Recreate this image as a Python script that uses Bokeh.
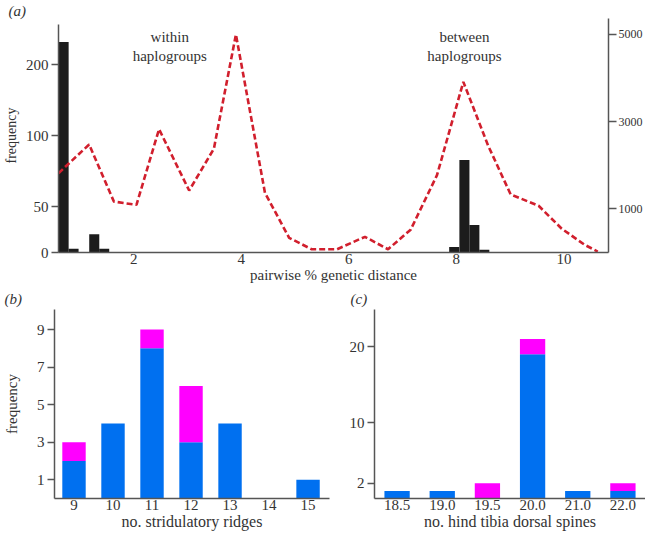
import math
from bokeh.plotting import figure
from bokeh.models import Range1d, FactorRange, LinearAxis, FixedTicker
from bokeh.layouts import column, row
from bokeh.embed import file_html
from bokeh.resources import INLINE
from bokeh.core.properties import value

# ---------------- data ----------------
# panel (a): histogram of pairwise distances (left axis, frequency)
dist_centers = [0.695, 0.88, 1.265, 1.45, 7.96, 8.15, 8.335, 8.52]
dist_freq = [250, 4, 20, 4, 6, 79, 30, 3]
bin_width = 0.187
# panel (a): dashed line (right axis)
line_x = [0.6, 1.17, 1.63, 2.05, 2.47, 3.03, 3.49, 3.90, 4.44, 4.89, 5.31, 5.78,
          6.30, 6.73, 7.15, 7.64, 8.13, 8.59, 9.01, 9.53, 9.96, 10.39, 10.63]
line_y = [1816, 2473, 1166, 1092, 2825, 1419, 2377, 4993, 1368, 336, 74, 74,
          359, 74, 522, 1771, 3908, 2451, 1330, 1070, 545, 173, 22]
left_ticks = [0, 50, 100, 200]
right_ticks = [1000, 3000, 5000]
a_xticks = [2, 4, 6, 8, 10]

# panel (b)
ridges = [9, 10, 11, 12, 13, 14, 15]
ridges_blue = [2, 4, 8, 3, 4, 0, 1]
ridges_magenta = [1, 0, 1, 3, 0, 0, 0]
b_yticks = [1, 3, 5, 7, 9]

# panel (c)
spines = ["18.5", "19.0", "19.5", "20.0", "21.0", "22.0"]
spines_blue = [1, 1, 0, 19, 1, 1]
spines_magenta = [0, 0, 2, 2, 0, 1]
c_yticks = [2, 10, 20]

FONT = "Liberation Serif"
TXT = "#333333"
AXC = "#555555"
BLUE = "#0070f0"
MAG = "#ff00ff"


def freq_scale(v):
    # left axis of (a): linear up to 50, then equal spacing per doubling
    low, octave = 1047.0, 1626.0
    if v <= 50:
        return low * v / 50.0
    return low + octave * math.log2(v / 50.0)


def style_axis(ax, size="15px", tick_out=7, label_size="15px"):
    ax.axis_line_color = AXC
    ax.axis_line_width = 1.5
    ax.major_tick_line_color = AXC
    ax.major_tick_line_width = 1.5
    ax.major_tick_in = 0
    ax.major_tick_out = tick_out
    ax.minor_tick_line_color = None
    ax.major_label_text_font = FONT
    ax.major_label_text_font_size = size
    ax.major_label_text_color = TXT
    ax.major_label_text_line_height = 1.0
    ax.major_label_standoff = 3
    ax.axis_label_text_font = FONT
    ax.axis_label_text_font_size = label_size
    ax.axis_label_text_font_style = "normal"
    ax.axis_label_text_color = TXT
    ax.axis_label_text_line_height = 1.0


def clean(p, label, offset, standoff):
    p.xgrid.visible = False
    p.ygrid.visible = False
    p.outline_line_color = None
    p.background_fill_color = "white"
    p.border_fill_color = "white"
    p.title.text = label
    p.title.align = "left"
    p.title.offset = offset
    p.title.standoff = standoff
    p.title.text_font = FONT
    p.title.text_font_size = "15px"
    p.title.text_font_style = "italic"
    p.title.text_color = TXT
    p.title.text_line_height = 0.9


# ---------------- panel (a) ----------------
pa = figure(width=645, height=285, x_range=Range1d(0.6, 10.83), y_range=Range1d(0, 5360),
            output_backend="svg", toolbar_location=None, y_axis_location="right",
            min_border_left=50, min_border_right=0, min_border_top=0, min_border_bottom=30)
clean(pa, "(a)", -50, 0)

bar_tops = [freq_scale(v) for v in dist_freq]
pa.vbar(x=dist_centers, width=bin_width, bottom=0, top=bar_tops,
        fill_color="#1c1c1c", line_color=None)
pa.line(x=line_x, y=line_y, line_color="#d11f2d", line_width=2.6, line_dash="6 3")

# right axis
rax = pa.yaxis[0]
style_axis(rax, size="12px", tick_out=8)
rax.ticker = FixedTicker(ticks=right_ticks)
rax.major_label_standoff = 2

# left axis (frequency)
lt = [round(freq_scale(v), 3) for v in left_ticks]
lax = LinearAxis(ticker=FixedTicker(ticks=lt), axis_label="frequency",
                 bounds=(0, 5231))
lax.major_label_overrides = {t: str(v) for t, v in zip(lt, left_ticks)}
style_axis(lax, label_size="14px")
lax.axis_label_standoff = 4
pa.add_layout(lax, "left")

xax = pa.xaxis[0]
style_axis(xax, tick_out=0)
xax.ticker = FixedTicker(ticks=a_xticks)
xax.axis_label = "pairwise % genetic distance"
xax.major_label_standoff = 1
xax.axis_label_standoff = 0

pa.text(x=[2.67, 8.15], y=[4711, 4711], text=["within\nhaplogroups", "between\nhaplogroups"],
        text_font=value(FONT), text_font_size="15px", text_color=TXT,
        text_align="center", text_baseline="middle", text_line_height=1.2)

# ---------------- panel (b) ----------------
pb = figure(width=335, height=247, x_range=Range1d(8.5, 15.55), y_range=Range1d(0, 10.07),
            output_backend="svg", toolbar_location=None,
            min_border_left=50, min_border_right=6, min_border_top=0, min_border_bottom=0)
clean(pb, "(b)", -50, 6)
b_tot = [b + m for b, m in zip(ridges_blue, ridges_magenta)]
pb.vbar(x=ridges, width=0.6, bottom=0, top=ridges_blue, fill_color=BLUE, line_color=None)
pb.vbar(x=ridges, width=0.6, bottom=ridges_blue, top=b_tot, fill_color=MAG, line_color=None)
style_axis(pb.yaxis[0])
pb.yaxis[0].ticker = FixedTicker(ticks=b_yticks)
pb.yaxis[0].axis_label = "frequency"
pb.yaxis[0].axis_label_standoff = 14
style_axis(pb.xaxis[0], tick_out=0, label_size="16px")
pb.xaxis[0].ticker = FixedTicker(ticks=ridges)
pb.xaxis[0].axis_label = "no. stridulatory ridges"
pb.xaxis[0].major_label_standoff = 1
pb.xaxis[0].axis_label_standoff = 0

# ---------------- panel (c) ----------------
pc = figure(width=310, height=247, x_range=FactorRange(factors=spines), y_range=Range1d(0, 24.9),
            output_backend="svg", toolbar_location=None,
            min_border_left=39, min_border_right=0, min_border_top=0, min_border_bottom=0)
clean(pc, "(c)", -24, 6)
c_tot = [b + m for b, m in zip(spines_blue, spines_magenta)]
pc.vbar(x=spines, width=0.56, bottom=0, top=spines_blue, fill_color=BLUE, line_color=None)
pc.vbar(x=spines, width=0.56, bottom=spines_blue, top=c_tot, fill_color=MAG, line_color=None)
style_axis(pc.yaxis[0])
pc.yaxis[0].ticker = FixedTicker(ticks=c_yticks)
style_axis(pc.xaxis[0], tick_out=0, label_size="16px")
pc.xaxis[0].axis_label = "no. hind tibia dorsal spines"
pc.xaxis[0].major_label_standoff = 1
pc.xaxis[0].axis_label_standoff = 0

layout = column(pa, row(pb, pc))
open("out.html", "w").write(file_html(layout, INLINE))
